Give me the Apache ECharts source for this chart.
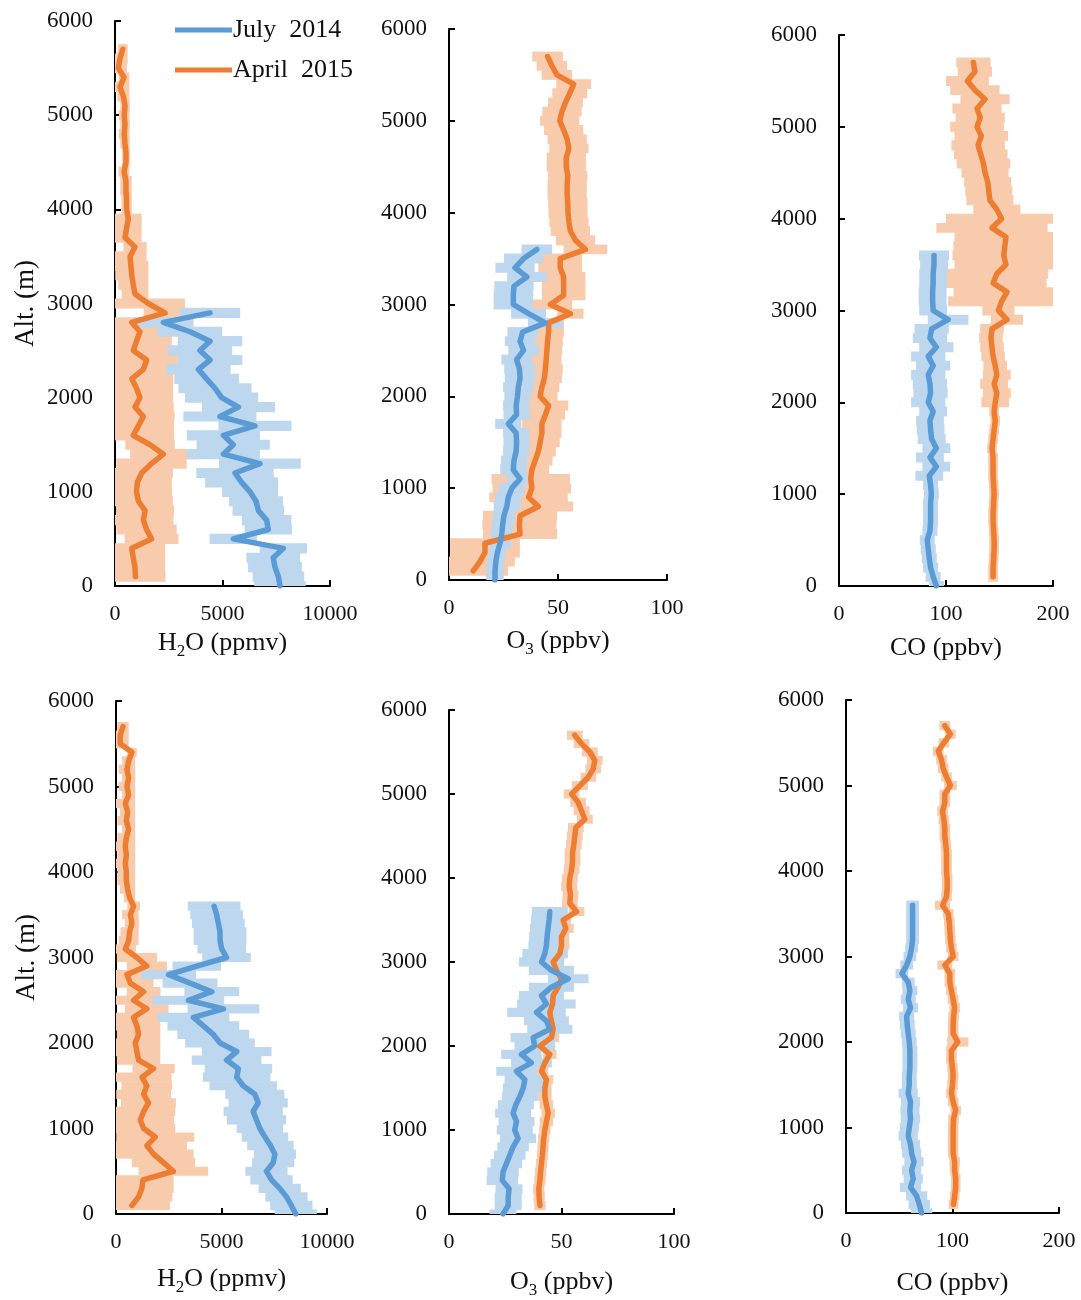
<!DOCTYPE html>
<html>
<head>
<meta charset="utf-8">
<script src="https://cdn.jsdelivr.net/npm/echarts@6.0.0/dist/echarts.min.js"></script>
<style>
  html, body { margin: 0; padding: 0; background: #fff; }
  #chart { width: 1081px; height: 1300px; }
</style>
</head>
<body>
<div id="chart"></div>
<script>
// altitude levels (m)
const altJuly = [0, 100, 200, 300, 400, 500, 600, 700, 800, 900, 1000, 1100, 1200, 1300, 1400, 1500, 1600, 1700, 1800, 1900,
  2000, 2100, 2200, 2300, 2400, 2500, 2600, 2700, 2800, 2900, 3000, 3100, 3200, 3300, 3400, 3500, 3600];
const altApril = [100, 200, 300, 400, 500, 600, 700, 800, 900, 1000, 1100, 1200, 1300, 1400, 1500, 1600, 1700, 1800, 1900, 2000,
  2100, 2200, 2300, 2400, 2500, 2600, 2700, 2800, 2900, 3000, 3100, 3200, 3300, 3400, 3500, 3600, 3700, 3800, 3900, 4000,
  4100, 4200, 4300, 4400, 4500, 4600, 4700, 4800, 4900, 5000, 5100, 5200, 5300, 5400, 5500, 5600, 5700];

// ---- top row ----
const h2oJulyTop = [7670, 7600, 7440, 7360, 7830, 5500, 7130, 7050, 6670, 6560,
  6280, 5890, 5580, 6740, 5040, 5500, 5040, 6510, 4880, 5740,
  4960, 4650, 4260, 3880, 4420, 3950, 4420, 3490, 2250, 4420];
const h2oJulyTopSd = [1200, 1200, 1250, 1250, 1100, 1100, 1100, 1150, 1200, 1250,
  1300, 1700, 1800, 1900, 1700, 1700, 1700, 1700, 1700, 1700,
  1700, 1700, 1500, 1500, 1500, 1500, 1500, 1500, 1400, 1400];
const h2oAprilTop = [950, 930, 850, 780, 1700, 1470, 1320, 1400, 1090, 1000,
  1040, 1240, 1700, 2250, 1630, 850, 1090, 1320, 930, 1160,
  1000, 780, 1320, 1470, 850, 1000, 1160, 780, 2330, 1550,
  930, 850, 780, 740, 700, 930, 465, 540, 620, 540,
  540, 510, 510, 420, 510, 510, 465, 430, 465, 430,
  465, 390, 230, 420, 155, 230, 360];
const h2oAprilTopSd = [1400, 1400, 1480, 1550, 1250, 1400, 1400, 1350, 1600, 1650,
  1600, 1450, 1630, 1550, 1150, 1900, 1650, 1450, 1800, 1550,
  1700, 1930, 1630, 1480, 2100, 1640, 1480, 1860, 1000, 1700,
  620, 700, 770, 810, 770, 540, 770, 700, 620, 240,
  240, 265, 265, 250, 180, 180, 220, 250, 220, 250,
  220, 280, 440, 250, 400, 360, 230];

const o3JulyTop = [21.1, 21.1, 21.5, 22.2, 23.4, 24.2, 24.6, 25.2, 26.5, 27.2,
  28.8, 32.6, 29.5, 29.8, 30.8, 31.0, 30.8, 27.2, 31.0, 30.8,
  31.4, 31.8, 32.6, 32.3, 31.0, 34.2, 32.6, 33.8, 44.2, 36.5,
  29.5, 29.5, 29.8, 35.7, 30.3, 34.2, 40.3];
const o3JulyTopSd = [4, 4, 4, 4, 5, 5, 5, 5, 6, 6,
  6, 6, 6, 6, 6, 6, 6, 6, 6, 6,
  6, 7, 7, 7, 7, 7, 7, 7, 8, 8,
  9, 9, 9, 9, 9, 9, 7];
const o3AprilTop = [11.1, 14.2, 16.5, 16.5, 32.6, 32.3, 32.6, 41.0, 36.5, 38.0,
  37.5, 38.0, 39.5, 41.0, 41.8, 42.6, 42.6, 44.2, 45.7, 41.8,
  42.6, 43.8, 44.2, 44.6, 44.9, 45.2, 45.7, 45.7, 55.7, 46.5,
  52.6, 52.6, 52.6, 51.0, 51.0, 62.6, 58.0, 55.7, 55.0, 54.6,
  54.5, 54.2, 54.2, 54.5, 53.8, 53.8, 55.0, 54.2, 52.6, 50.8,
  51.8, 53.4, 55.4, 57.2, 49.5, 47.2, 45.2];
const o3AprilTopSd = [16, 16, 16, 16, 17, 17, 17, 16, 18, 18,
  18, 8, 8, 8, 9, 9, 9, 9, 9, 8,
  8, 8, 8, 7, 7, 7, 7, 7, 6, 10,
  10, 10, 10, 10, 10, 10, 9, 9, 9, 9,
  9, 9, 9, 9, 9, 9, 9, 9, 9, 9,
  9, 8, 8, 8, 7, 7, 7];

const coJulyTop = [91, 88, 85.6, 84.4, 83.4, 82.5, 85, 85.6, 85.6, 85.6,
  86.3, 85.6, 84.4, 91, 85, 91, 86.6, 85.6, 85, 88,
  83.4, 85.6, 85, 83.4, 88, 83.4, 91, 85, 86.6, 102,
  88, 87.5, 87.5, 88, 88, 88.8, 88.8];
const coJulyTopSd = [7, 7, 7, 7, 7, 7, 7, 7, 7, 7,
  7, 7, 13, 13, 13, 13, 13, 13, 13, 13,
  16, 16, 16, 16, 16, 16, 16, 16, 16, 19,
  13, 13, 13, 13, 13, 13, 14];
const coAprilTop = [144, 144, 144.5, 145, 145, 144.5, 144, 144, 144.5, 145,
  144.5, 144, 144, 144, 143, 144, 145, 146, 145, 146,
  147.5, 145, 147.5, 146, 144, 143, 142, 143, 157, 149,
  152, 157, 144, 147.5, 156, 154, 155, 156, 143, 152,
  147.5, 141, 140, 139, 136.5, 135, 132.5, 130, 133, 129,
  132, 129, 136.5, 127, 120, 127, 125.6];
const coAprilTopSd = [4.5, 4.5, 4.5, 4.5, 4.5, 4.5, 4.5, 4.5, 4.5, 4.5,
  4.5, 4.5, 4.5, 4.5, 4.5, 4.5, 4.5, 4.5, 4.5, 13,
  13, 13, 13, 11, 11, 11, 11, 11, 15, 15,
  50, 50, 50, 48, 48, 48, 48, 48, 52, 52,
  22, 22, 22, 22, 22, 25, 25, 25, 25, 25,
  23, 23, 23, 23, 20, 16, 16];

// ---- bottom row ----
const h2oJulyBot = [8520, 8310, 8080, 7760, 7370, 7130, 7450, 7530, 7320, 7060,
  6820, 6660, 6500, 6740, 6580, 6030, 5720, 5800, 5240, 5720,
  4930, 4610, 4140, 3670, 5090, 3430, 4540, 3510, 2490, 3830,
  5240, 5010, 4930, 4930, 4850, 4770, 4650];
const h2oJulyBotSd = [1000, 1000, 1000, 1000, 1000, 1000, 1000, 1000, 1100, 1100,
  1100, 1400, 1400, 1400, 1400, 1600, 1600, 1600, 1650, 1650,
  1650, 1700, 1700, 1700, 1700, 1700, 1300, 1300, 1300, 1150,
  1150, 1150, 1250, 1250, 1250, 1250, 1250];
const h2oAprilBot = [756, 1070, 1230, 1280, 2720, 2250, 1780, 1460, 1860, 1310,
  1150, 1310, 1540, 1310, 1460, 1230, 1780, 1070, 990, 910,
  1070, 990, 830, 1460, 830, 1310, 680, 520, 1460, 990,
  440, 600, 645, 756, 680, 835, 645, 550, 490, 490,
  440, 490, 440, 490, 600, 490, 550, 440, 600, 520,
  600, 520, 600, 756, 200, 200, 330];
const h2oAprilBotSd = [1800, 1600, 1500, 1450, 1650, 1500, 1900, 1900, 1850, 1500,
  1600, 1500, 1300, 1300, 1200, 1400, 1000, 1030, 1110, 1190,
  1030, 1110, 1270, 1030, 1100, 800, 1100, 1200, 950, 950,
  500, 470, 430, 330, 390, 300, 265, 360, 420, 420,
  470, 420, 470, 420, 310, 420, 360, 470, 310, 390,
  310, 390, 310, 230, 400, 400, 270];

const o3JulyBot = [24, 26.3, 26.3, 26.7, 23.7, 24, 25.5, 27, 28.5, 30.7,
  29.2, 30, 28.5, 29.7, 31.5, 33, 33.7, 30, 36.6, 32.2,
  38.1, 37.4, 44.8, 43.3, 38.9, 43.3, 41.1, 45.5, 53, 45.5,
  41.1, 42.6, 43.3, 43.6, 44, 44.5, 44.8];
const o3JulyBotSd = [6, 6, 6, 6, 7, 7, 7, 7, 7, 8,
  8, 8, 8, 8, 8, 9, 9, 9, 9, 9,
  9, 10, 10, 10, 13, 13, 10, 10, 9, 10,
  10, 10, 8, 8, 8, 8, 8];
const o3AprilBot = [40.4, 40.1, 39.9, 40.4, 40.7, 41.1, 41.5, 41.8, 42.1, 42.6,
  43.3, 44.1, 43.3, 42.6, 42.6, 43.3, 41.1, 42.6, 44.8, 40.4,
  45.5, 46.3, 45.5, 44.8, 46, 46.3, 48.5, 50, 47.8, 46.3,
  49.3, 50, 50, 51.9, 50.7, 56.7, 53.7, 54, 53.4, 53.7,
  54.5, 54.9, 54.9, 55.5, 55.9, 56.4, 60.4, 58.9, 57.4, 54.5,
  58.2, 61.9, 64.1, 64.8, 62.6, 58.9, 55.9];
const o3AprilBotSd = [2.5, 2.5, 2.5, 2.5, 2.5, 2.5, 2.5, 2.5, 2.5, 2.5,
  3, 3, 3, 3, 3, 3, 3, 3, 3, 3,
  3.5, 3.5, 3.5, 3.5, 3.5, 3.5, 3.5, 3.5, 3.5, 3.5,
  3.5, 3.5, 3.5, 3.5, 3.5, 3.5, 3.5, 3.5, 3.5, 3.5,
  3.5, 3.5, 3.5, 3.5, 3.5, 3.5, 3.5, 3.5, 3.5, 3.5,
  3.5, 3.5, 3.5, 3.5, 3.5, 3.5, 3.5];

const coJulyBot = [71, 68.8, 66.3, 60.6, 63.1, 61.6, 63.8, 61.6, 60.6, 58.4,
  59.4, 60.6, 60, 60.6, 58.4, 59.4, 59.4, 60, 60, 60,
  59.4, 58.4, 57.5, 56.9, 60.6, 58.4, 60, 58.4, 52.5, 57,
  60, 61.6, 62.5, 62.5, 62.5, 62.5, 62.5];
const coJulyBotSd = [10, 10, 10, 10, 9, 9, 9, 9, 9, 9,
  9, 9, 9, 9, 9, 7, 7, 7, 7, 7,
  7, 7, 7, 7, 7, 7, 7, 6, 6, 6,
  6, 6, 6, 6, 6, 6, 6];
const coAprilBot = [101, 102, 103, 103, 102, 102, 100.6, 100.6, 100.6, 100.6,
  101, 103, 100.6, 99, 100, 100.6, 100, 99, 99, 105,
  100.6, 100.6, 101, 102, 100.6, 99, 97.5, 97.5, 92.8, 100.6,
  99, 98, 97.5, 97, 96, 90.6, 94.4, 95, 95, 94.4,
  94.4, 94.4, 93.8, 92.8, 92.8, 91.9, 90.6, 92.8, 92.8, 98,
  94.4, 91.3, 89.7, 86.6, 91.9, 98, 92.8];
const coAprilBotSd = [4.5, 4.5, 4.5, 4.5, 4.5, 5, 5, 5, 5, 5,
  5, 5, 5, 5, 5, 5, 5, 5, 5, 10,
  5, 5, 5, 5, 5, 5, 5, 5, 7, 5,
  5, 5, 5, 5, 5, 7, 5, 5, 5, 5,
  5, 5, 5, 5, 5, 5, 5, 5, 5, 6,
  5, 5, 5, 5, 5, 5, 5];

const altTicks = [0, 6000, 1000];
const seriesNames = ['July  2014', 'April  2015'];

const FONT = "'Liberation Serif', 'Times New Roman', serif";
const BLUE = '#5B9BD5', ORANGE = '#ED7D31';
const BLUE_SD = '#BDD7EE', ORANGE_SD = '#F8CBAD';

const nameH2O = '{a|H}{s|2}{a|O (ppmv)}';
const nameO3 = '{a|O}{s|3}{a| (ppbv)}';
const nameCO = '{a|CO (ppbv)}';

const panels = [
  { grid: { left: 115, top: 21, width: 215, height: 565 }, xMax: 10000, xStep: 5000, name: nameH2O, gap: 44, alt: true,
    july: h2oJulyTop, julySd: h2oJulyTopSd, april: h2oAprilTop, aprilSd: h2oAprilTopSd },
  { grid: { left: 449, top: 29, width: 218, height: 551 }, xMax: 100, xStep: 50, name: nameO3, gap: 48,
    july: o3JulyTop, julySd: o3JulyTopSd, april: o3AprilTop, aprilSd: o3AprilTopSd },
  { grid: { left: 839, top: 35, width: 214, height: 551 }, xMax: 200, xStep: 100, name: nameCO, gap: 49,
    july: coJulyTop, julySd: coJulyTopSd, april: coAprilTop, aprilSd: coAprilTopSd },
  { grid: { left: 116, top: 701, width: 211, height: 513 }, xMax: 10000, xStep: 5000, name: nameH2O, gap: 52, alt: true,
    july: h2oJulyBot, julySd: h2oJulyBotSd, april: h2oAprilBot, aprilSd: h2oAprilBotSd },
  { grid: { left: 449, top: 710, width: 225, height: 505 }, xMax: 100, xStep: 50, name: nameO3, gap: 55,
    july: o3JulyBot, julySd: o3JulyBotSd, april: o3AprilBot, aprilSd: o3AprilBotSd },
  { grid: { left: 846, top: 700, width: 213, height: 513 }, xMax: 200, xStep: 100, name: nameCO, gap: 57,
    july: coJulyBot, julySd: coJulyBotSd, april: coAprilBot, aprilSd: coAprilBotSd }
];

function zip(vals, sd, alts) {
  return vals.map((v, i) => [v, alts[i], sd[i]]);
}

// horizontal error band (mean ± sd) for one altitude level
function renderBand(params, api) {
  const m = api.value(0), a = api.value(1), s = api.value(2);
  const p1 = api.coord([m - s, a]);
  const p2 = api.coord([m + s, a]);
  const h = api.size([0, 100])[1] * 1.08;
  const cs = params.coordSys;
  const shape = echarts.graphic.clipRectByRect(
    { x: p1[0], y: p1[1] - h / 2, width: p2[0] - p1[0], height: h },
    { x: cs.x, y: cs.y, width: cs.width, height: cs.height }
  );
  return shape && { type: 'rect', shape: shape, style: { fill: api.visual('color') } };
}

const axisLine = { show: true, onZero: false, lineStyle: { color: '#000', width: 2 } };
const axisTick = { show: true, inside: true, length: 6, lineStyle: { color: '#000', width: 2 } };
const plain = v => String(v);
const richName = {
  a: { fontFamily: FONT, fontSize: 26, color: '#111', lineHeight: 30, verticalAlign: 'top' },
  s: { fontFamily: FONT, fontSize: 17, color: '#111', lineHeight: 17, verticalAlign: 'top', padding: [13, 0, 0, 0] }
};

const grids = [], xAxes = [], yAxes = [], series = [];
panels.forEach((p, i) => {
  grids.push(p.grid);
  xAxes.push({
    type: 'value', gridIndex: i, min: 0, max: p.xMax, interval: p.xStep,
    axisLine, axisTick, splitLine: { show: false },
    axisLabel: { margin: 17, formatter: plain, fontFamily: FONT, fontSize: 22, color: '#111' },
    name: p.name, nameLocation: 'middle', nameGap: p.gap,
    nameTextStyle: { rich: richName }
  });
  yAxes.push({
    type: 'value', gridIndex: i, min: altTicks[0], max: altTicks[1], interval: altTicks[2],
    axisLine, axisTick, splitLine: { show: false },
    axisLabel: { margin: 22, formatter: plain, fontFamily: FONT, fontSize: 23, color: '#111' },
    name: p.alt ? 'Alt. (m)' : '', nameLocation: 'middle', nameGap: 76,
    nameTextStyle: { fontFamily: FONT, fontSize: 27, color: '#111' }
  });
  series.push({
    type: 'custom', name: 'April sd', xAxisIndex: i, yAxisIndex: i, z: 1,
    itemStyle: { color: ORANGE_SD }, renderItem: renderBand,
    encode: { x: 0, y: 1 }, data: zip(p.april, p.aprilSd, altApril)
  });
  series.push({
    type: 'custom', name: 'July sd', xAxisIndex: i, yAxisIndex: i, z: 2,
    itemStyle: { color: BLUE_SD }, renderItem: renderBand,
    encode: { x: 0, y: 1 }, data: zip(p.july, p.julySd, altJuly)
  });
  series.push({
    type: 'line', name: seriesNames[1], xAxisIndex: i, yAxisIndex: i, z: 3,
    symbol: 'none', itemStyle: { color: ORANGE },
    lineStyle: { color: ORANGE, width: 5.5, join: 'round', cap: 'round' },
    data: p.april.map((v, k) => [v, altApril[k]])
  });
  series.push({
    type: 'line', name: seriesNames[0], xAxisIndex: i, yAxisIndex: i, z: 4,
    symbol: 'none', itemStyle: { color: BLUE },
    lineStyle: { color: BLUE, width: 5.5, join: 'round', cap: 'round' },
    data: p.july.map((v, k) => [v, altJuly[k]])
  });
});

const chart = echarts.init(document.getElementById('chart'), null, { renderer: 'canvas' });
chart.setOption({
  animation: false,
  backgroundColor: '#fff',
  legend: {
    data: seriesNames, orient: 'vertical', left: 170, top: 12,
    icon: 'rect', itemWidth: 57, itemHeight: 5, itemGap: 14,
    textStyle: { fontFamily: FONT, fontSize: 26, color: '#111', padding: [0, 0, 0, -4] },
    selectedMode: false
  },
  grid: grids,
  xAxis: xAxes,
  yAxis: yAxes,
  series: series
});
</script>
</body>
</html>
